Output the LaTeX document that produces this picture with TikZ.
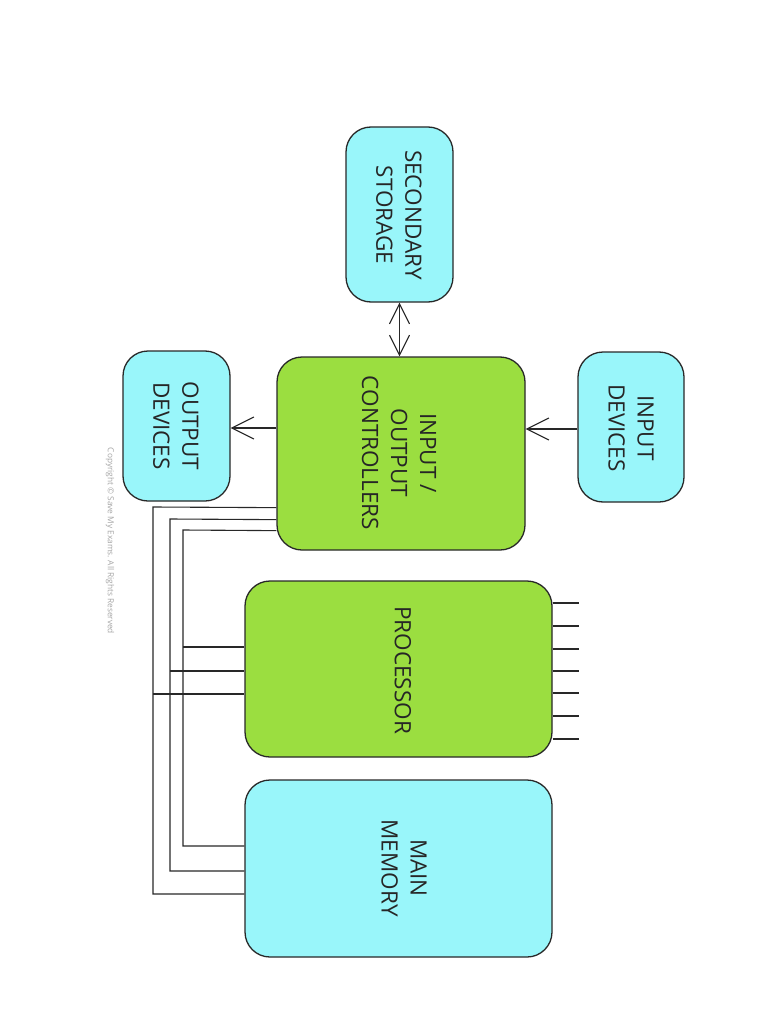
\documentclass[tikz,border=0pt]{standalone}
\usepackage{fontspec}
\setmainfont{Open Sans}
\usetikzlibrary{arrows.meta,calc}
\definecolor{boxcyan}{RGB}{153,246,250}
\definecolor{boxgreen}{RGB}{155,222,64}
\definecolor{edge}{RGB}{40,40,40}
\tikzset{
  unit/.style={draw=edge, line width=1.3pt, rounded corners=25pt, inner sep=0pt},
  cyanbox/.style={unit, fill=boxcyan},
  greenbox/.style={unit, fill=boxgreen},
  lbl/.style={rotate=-90, align=center, text=black!85, font=\fontsize{22.5}{29}\selectfont},
  wire/.style={draw=edge, line width=1.1pt},
  arr/.style={wire, -{Straight Barb[length=22pt,width=22pt]}},
  darr/.style={wire, {Straight Barb[length=20pt,width=20pt]}-{Straight Barb[length=20pt,width=20pt]}}
}
\begin{document}
\begin{tikzpicture}[x=1pt,y=-1pt]
\useasboundingbox (0,0) rectangle (768,1024);
\fill[white] (0,0) rectangle (768,1024);

% boxes
\node[cyanbox, minimum width=107pt, minimum height=175pt] (ss) at (399.5,214.5) {};
\node[cyanbox, minimum width=106pt, minimum height=150pt] (in) at (631,427) {};
\node[cyanbox, minimum width=107pt, minimum height=150pt] (out) at (176.5,426) {};
\node[greenbox, minimum width=248pt, minimum height=193pt] (io) at (401,453.5) {};
\node[greenbox, minimum width=307pt, minimum height=176pt] (pr) at (398.5,669) {};
\node[cyanbox, minimum width=307pt, minimum height=177pt] (mm) at (398.5,868.5) {};

% labels
\node[lbl] (ssT) at (399,215) {SECONDARY\\STORAGE};
\node[lbl] (inT) at (631,428) {INPUT\\DEVICES};
\node[lbl] (outT) at (176,426) {OUTPUT\\DEVICES};
\node[lbl] (ioT) at (399,453) {INPUT /\\OUTPUT\\CONTROLLERS};
\node[lbl] (prT) at (403,670) {PROCESSOR};
\node[lbl] (mmT) at (404,868) {MAIN\\MEMORY};

% arrows
\draw[darr] (ss.south) -- (ss.south |- io.north);
\draw[arr] (in.west |- 0,429) -- (io.east |- 0,429);
\draw[arr] (io.west |- 0,428) -- (out.east |- 0,428);

% buses
\draw[wire] ($(io.south west)+(0,-43)$) -- (153,507) -- (153,894) -- (mm.west |- 0,894);
\draw[wire] ($(io.south west)+(0,-31)$) -- (170,519) -- (170,871) -- (mm.west |- 0,871);
\draw[wire] ($(io.south west)+(0,-20)$) -- (183,530) -- (183,846) -- (mm.west |- 0,846);
\draw[wire] (153,694) -- (pr.west |- 0,694);
\draw[wire] (170,671) -- (pr.west |- 0,671);
\draw[wire] (183,647) -- (pr.west |- 0,647);

% processor pins
\foreach \yy in {603,626,649,671,693,716,739}
  \draw[wire] (pr.east |- 0,\yy) -- ++(26,0);

% copyright
\node[rotate=-90, text=black!35, font=\fontsize{8.3}{10}\selectfont] (copy) at (110,541) {Copyright © Save My Exams. All Rights Reserved};
\end{tikzpicture}
\end{document}
